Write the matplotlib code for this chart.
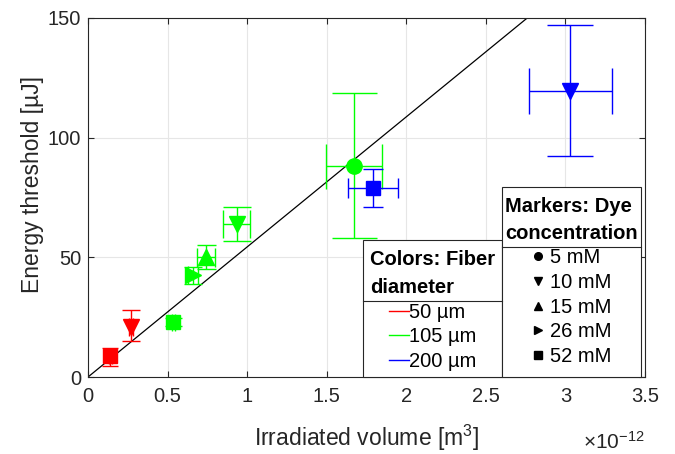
import matplotlib.pyplot as plt
import numpy as np
from matplotlib.lines import Line2D
from matplotlib.patches import Rectangle

plt.rcParams['font.family'] = ['Liberation Sans', 'DejaVu Sans']
plt.rcParams['mathtext.default'] = 'regular'

# data, x in units of 1e-12 m^3
x = [0.14, 0.27, 0.535, 0.66, 0.74, 0.935, 1.67, 1.79, 3.03]
y = [8.8, 21, 23, 42.5, 50, 64, 88, 79, 119.5]
y_lo = [4, 6, 1.5, 3.5, 5, 7, 30, 8, 27]
y_hi = [3.5, 7, 1.5, 3.5, 5, 7, 30.5, 8, 27.5]
x_err = [0.01, 0.01, 0.01, 0.03, 0.057, 0.085, 0.175, 0.155, 0.26]
fiber = ['50', '50', '105', '105', '105', '105', '105', '200', '200']
dye = ['52', '10', '52', '26', '15', '10', '5', '52', '10']
cap_px = [16, 18, 17, 18, 19, 28, 45, 20, 46]
slope = 54.35  # fitted line through origin, uJ per 1e-12 m^3

fiber_labels = ['50', '105', '200']
fiber_colors = {'50': '#ff0000', '105': '#00ff00', '200': '#0000ff'}
dye_labels = ['5', '10', '15', '26', '52']
dye_markers = {'5': 'o', '10': 'v', '15': '^', '26': '>', '52': 's'}
marker_size = {'o': 11, 'v': 12, '^': 12, '>': 12, 's': 10}

dark = '#262626'
fig = plt.figure(figsize=(6.75, 4.54), dpi=100)
ax = fig.add_axes([0.1304, 0.1696, 0.8252, 0.7908])

for i in range(len(x)):
    c = fiber_colors[fiber[i]]
    m = dye_markers[dye[i]]
    ax.errorbar(x[i], y[i], yerr=[[y_lo[i]], [y_hi[i]]], xerr=x_err[i],
                fmt=m, color=c, ms=marker_size[m], mec=c, ecolor=c,
                elinewidth=1, capsize=cap_px[i] / 2 * 0.72, capthick=1, zorder=3)

xl = np.array([0, 3.5])
ax.plot(xl, slope * xl, color='black', lw=0.9, zorder=2)

ax.set_xlim(0, 3.5)
ax.set_ylim(0, 150)
ax.set_xticks([0, 0.5, 1, 1.5, 2, 2.5, 3, 3.5])
ax.set_xticklabels(['0', '0.5', '1', '1.5', '2', '2.5', '3', '3.5'])
ax.set_yticks([0, 50, 100, 150])
ax.grid(True, color='#e6e6e6', lw=0.8)
ax.set_axisbelow(True)
ax.tick_params(direction='in', top=True, right=True, labelsize=14.5,
               colors=dark, length=4)
ax.tick_params(axis='x', pad=7)
ax.tick_params(axis='y', pad=5)
for s in ax.spines.values():
    s.set_color(dark)
    s.set_linewidth(0.8)
ax.set_xlabel('Irradiated volume [m$^3$]', fontsize=16.5, color=dark, labelpad=12)
ax.set_ylabel('Energy threshold [µJ]', fontsize=16.5, color=dark, labelpad=3)
ax.yaxis.label.set_y(0.535)
ax.text(1.0, -0.182, r'$\times10^{-12}$', transform=ax.transAxes,
        ha='right', va='center', fontsize=15, color=dark)

# legends: (x0, x1) of box in axes coords
box1 = (0.494, 0.743)
box2 = (0.743, 0.993)

h1 = [Line2D([], [], color=fiber_colors[f], lw=1) for f in fiber_labels]
leg1 = ax.legend(h1, [f + ' µm' for f in fiber_labels], loc='lower center',
                 bbox_to_anchor=((box1[0] + box1[1]) / 2, 0.0),
                 borderaxespad=0, title='Colors: Fiber\ndiameter',
                 title_fontproperties={'weight': 'bold', 'size': 14.5},
                 alignment='center', fontsize=14.5, handlelength=1.0,
                 handletextpad=0.0, labelspacing=0.28, borderpad=0.3,
                 frameon=False)
ax.add_artist(leg1)

h2 = [Line2D([], [], ls='none', marker=dye_markers[d], color='black', ms=5.5)
      for d in dye_labels]
leg2 = ax.legend(h2, [d + ' mM' for d in dye_labels], loc='lower center',
                 bbox_to_anchor=((box2[0] + box2[1]) / 2, 0.0),
                 borderaxespad=0.25, title='Markers: Dye\nconcentration',
                 title_fontproperties={'weight': 'bold', 'size': 14.5},
                 alignment='center', fontsize=14.5, handlelength=0.6,
                 handletextpad=0.3, labelspacing=0.28, borderpad=0.3,
                 frameon=False)

leg1.get_title().set_linespacing(1.6)
leg2.get_title().set_linespacing(1.5)
for leg in (leg1, leg2):
    leg.get_title().set_multialignment('left')

# frames and separator lines drawn around the legends
fig.canvas.draw()
inv = ax.transAxes.inverted()
for leg, (bx0, bx1) in ((leg1, box1), (leg2, box2)):
    tb = leg.get_title().get_window_extent()
    top = inv.transform((0, tb.y1 + 10))[1]
    sep = inv.transform((0, tb.y0 - 4))[1]
    ax.add_patch(Rectangle((bx0, 0), bx1 - bx0, top, transform=ax.transAxes,
                           facecolor='white', edgecolor=dark, lw=0.8,
                           zorder=4.9, clip_on=False))
    ax.add_line(Line2D([bx0, bx1], [sep, sep], color=dark, lw=0.8,
                       transform=ax.transAxes, zorder=6, clip_on=False))

fig.savefig('out.png', dpi=100)
